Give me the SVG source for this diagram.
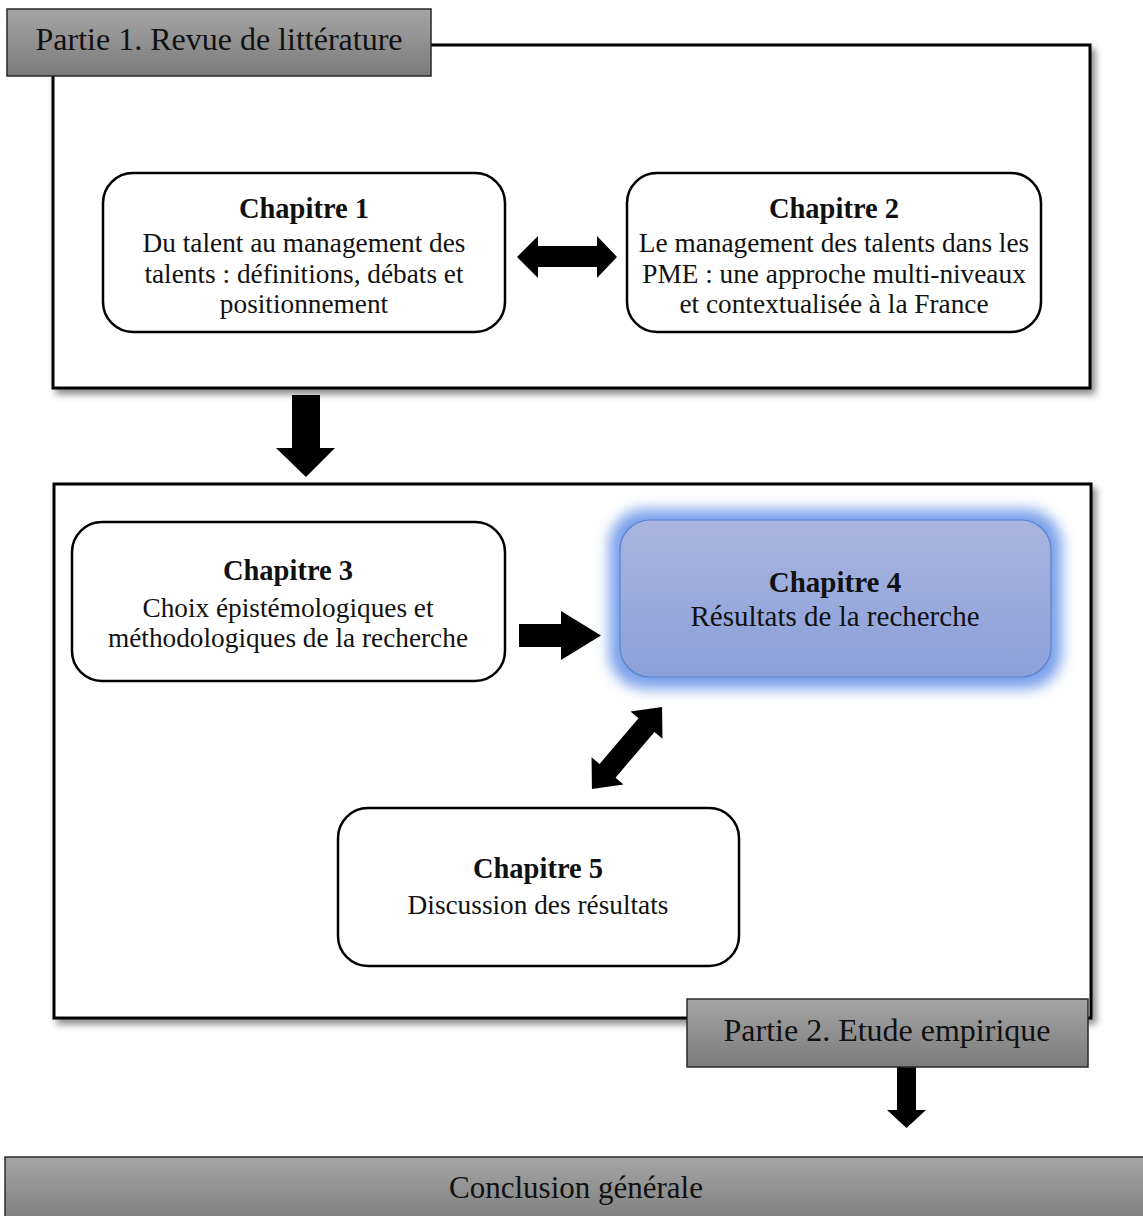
<svg xmlns="http://www.w3.org/2000/svg" width="1143" height="1216" viewBox="0 0 1143 1216">
<style>
text{font-family:"Liberation Serif","Times New Roman",serif;fill:#111;text-anchor:middle}
.t{font-weight:bold;font-size:28.5px}
.b{font-size:27.3px}
.lab{font-size:32px}
.part{fill:#fff;stroke:#000;stroke-width:3}
.chap{fill:#fff;stroke:#000;stroke-width:2.5}
.tag{fill:url(#gray);stroke:#2a2a2a;stroke-width:1.5}
.arr{fill:#000}
</style>
<defs>
<linearGradient id="gray" x1="0" y1="0" x2="0" y2="1">
<stop offset="0" stop-color="#a5a5a5"/>
<stop offset="1" stop-color="#7b7b7b"/>
</linearGradient>
<linearGradient id="blue" x1="0" y1="0" x2="0" y2="1">
<stop offset="0" stop-color="#a9b5e0"/>
<stop offset="1" stop-color="#8aa0d9"/>
</linearGradient>
<filter id="sh" x="-5%" y="-5%" width="112%" height="115%">
<feDropShadow dx="4" dy="5" stdDeviation="3.5" flood-color="#000" flood-opacity="0.45"/>
</filter>
<filter id="glow" x="-15%" y="-30%" width="130%" height="160%">
<feGaussianBlur stdDeviation="7"/>
</filter>
</defs>

<g id="partie1">
<rect class="part" x="53" y="45" width="1037" height="343" filter="url(#sh)"/>
</g>
<g id="partie2">
<rect class="part" x="54" y="484" width="1037" height="534" filter="url(#sh)"/>
</g>

<g id="chapitre1">
<rect class="chap" x="103" y="173" width="402" height="159" rx="30"/>
<text class="t" x="304" y="218">Chapitre 1</text>
<text class="b" x="304" y="252">Du talent au management des</text>
<text class="b" x="304" y="283">talents : définitions, débats et</text>
<text class="b" x="304" y="313">positionnement</text>
</g>

<g id="chapitre2">
<rect class="chap" x="627" y="173" width="414" height="159" rx="30"/>
<text class="t" x="834" y="218">Chapitre 2</text>
<text class="b" x="834" y="252">Le management des talents dans les</text>
<text class="b" x="834" y="283">PME : une approche multi-niveaux</text>
<text class="b" x="834" y="313">et contextualisée à la France</text>
</g>

<g id="chapitre3">
<rect class="chap" x="72" y="522" width="433" height="159" rx="30"/>
<text class="t" x="288" y="580">Chapitre 3</text>
<text class="b" x="288" y="617">Choix épistémologiques et</text>
<text class="b" x="288" y="647">méthodologiques de la recherche</text>
</g>

<g id="chapitre4">
<rect x="609" y="509" width="453" height="180" rx="36" fill="#7aa0ea" filter="url(#glow)"/>
<rect x="620" y="520" width="431" height="157" rx="30" fill="url(#blue)" stroke="#5a82cf" stroke-width="1.2"/>
<text class="t" x="835" y="592" style="font-size:29px">Chapitre 4</text>
<text class="b" x="835" y="626" style="font-size:29px">Résultats de la recherche</text>
</g>

<g id="chapitre5">
<rect class="chap" x="338" y="808" width="401" height="158" rx="30"/>
<text class="t" x="538" y="878">Chapitre 5</text>
<text class="b" x="538" y="914">Discussion des résultats</text>
</g>

<g id="connectors">
<path class="arr" d="M517,257 L538,236 L538,246 L597,246 L597,236 L617,257 L597,278 L597,267 L538,267 L538,278 Z"/>
<path class="arr" d="M292,395 H320 V448 H335 L306,477 L276,448 H292 Z"/>
<path class="arr" d="M519,624 H561 V611 L601,635.5 L561,660 V647 H519 Z"/>
<path class="arr" transform="translate(627,748) rotate(-49.5)" d="M-54,0 L-30,-21 L-30,-10.5 L30,-10.5 L30,-21 L54,0 L30,21 L30,10.5 L-30,10.5 L-30,21 Z"/>
<path class="arr" d="M897,1067 H916 V1110 H926 L906.5,1128 L887,1110 H897 Z"/>
</g>

<g id="label-partie1">
<rect class="tag" x="7" y="9" width="424" height="67"/>
<text class="lab" x="219" y="50">Partie 1. Revue de littérature</text>
</g>

<g id="label-partie2">
<rect class="tag" x="687" y="999" width="401" height="68"/>
<text class="lab" x="887" y="1041">Partie 2. Etude empirique</text>
</g>

<g id="conclusion">
<rect class="tag" x="5" y="1157" width="1150" height="70"/>
<text class="lab" x="576" y="1198" style="font-size:31px">Conclusion générale</text>
</g>
</svg>
